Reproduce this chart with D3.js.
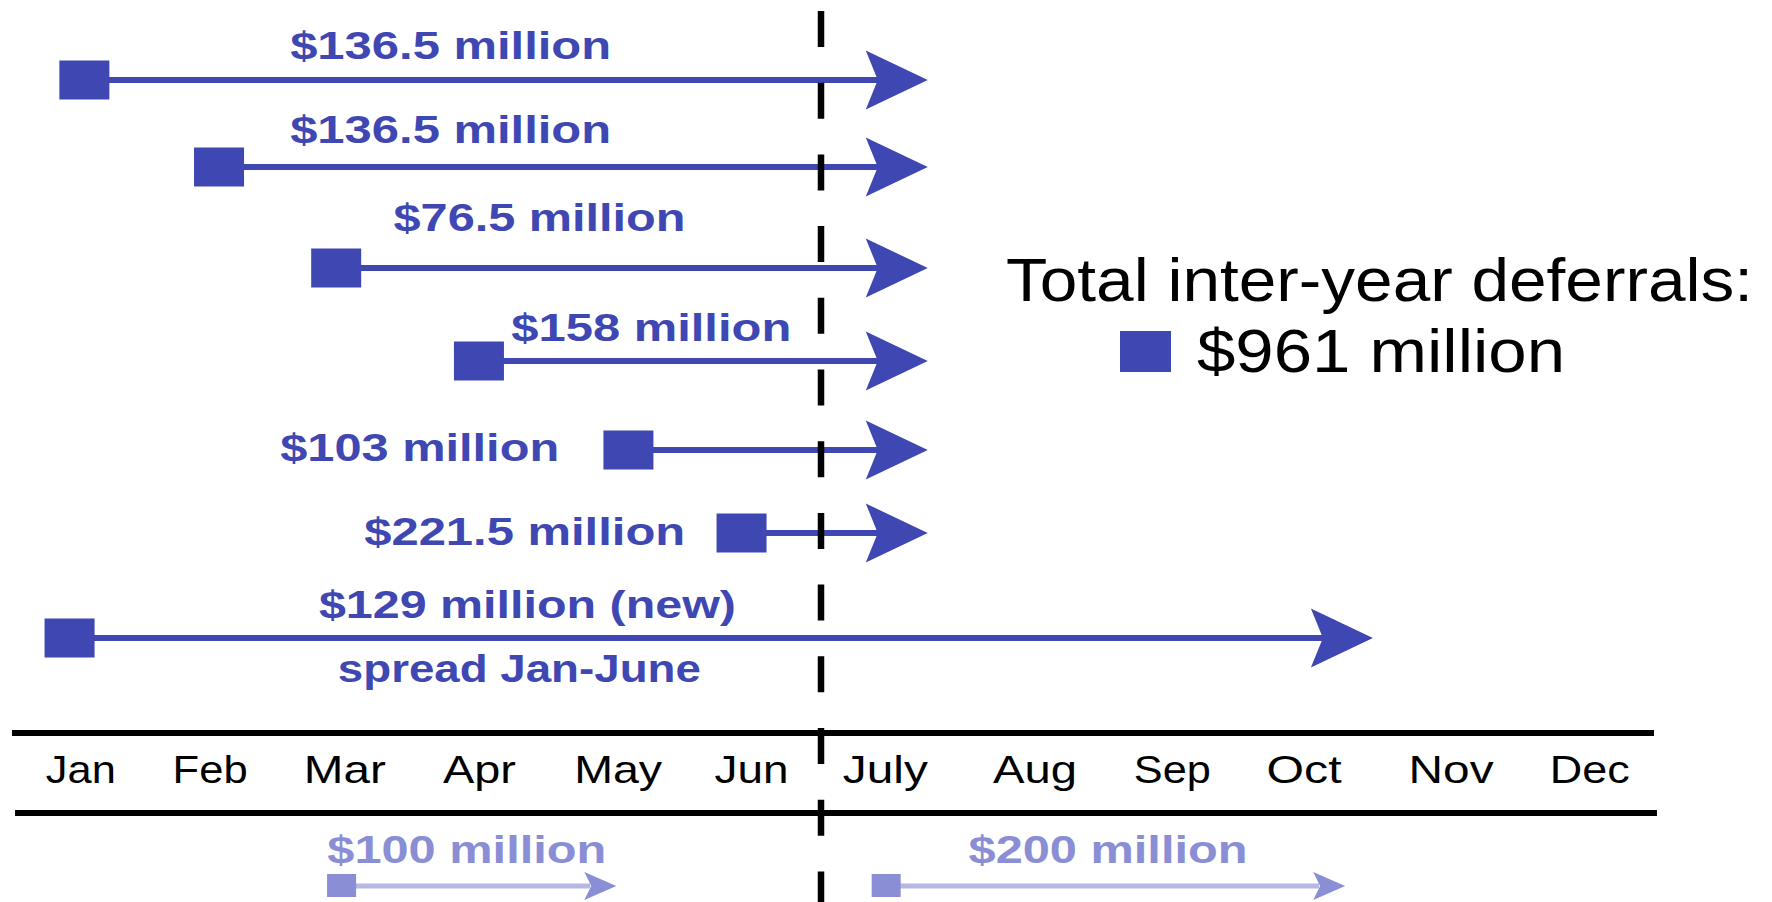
<!DOCTYPE html>
<html>
<head>
<meta charset="utf-8">
<script src="https://cdn.jsdelivr.net/npm/d3@7"></script>
<style>
  html, body { margin: 0; padding: 0; background: #ffffff; }
  svg { display: block; }
</style>
</head>
<body>
<svg id="chart" width="1772" height="902"></svg>
<script>
// ---------------- DATA ----------------
const months = ["Jan","Feb","Mar","Apr","May","Jun","July","Aug","Sep","Oct","Nov","Dec"];
const monthTickAt = [0.50, 1.46, 2.46, 3.46, 4.49, 5.48, 6.46, 7.54, 8.53, 9.48, 10.54, 11.54]; // label centres (month units)

const deferralLabels  = ["$136.5 million","$136.5 million","$76.5 million","$158 million","$103 million","$221.5 million","$129 million (new)"];
const deferralAmounts = [136.5, 136.5, 76.5, 158, 103, 221.5, 129];
const startMonth      = [0.53, 1.53, 2.40, 3.46, 4.57, 5.41, 0.42];   // month position of the square
const endMonth        = [6.77, 6.77, 6.77, 6.77, 6.77, 6.77, 9.98];   // month position of the arrow tip
const labelMonth      = [3.25, 3.25, 3.91, 4.74, 3.02, 3.80, 3.82];   // month position of label centre

const noteText  = "spread Jan-June";
const noteMonth = 3.76;

const laterLabels     = ["$100 million","$200 million"];
const laterStart      = [2.44, 6.47];
const laterEnd        = [4.48, 9.78];
const laterLabelMonth = [3.37, 8.07];

const legendTitle = "Total inter-year deferrals:";
const splitMonth  = 6;   // mid-year boundary (dashed line)

// ---------------- LAYOUT ----------------
const W = 1772, H = 902;
const BLUE = "#3e47b2", LIGHT = "#8a8ed4", LIGHT_LINE = "#b5b8e2";
const FONT = "'Liberation Sans', Arial, sans-serif";

const svg = d3.select("#chart");
svg.append("rect").attr("width", W).attr("height", H).attr("fill", "#fff");

// month scale (piecewise: first half / second half)
const x = d3.scaleLinear().domain([0, 6, 12]).range([13, 821, 1653]);

// row positions
const rowIdx = d3.range(deferralLabels.length);
const y = d3.scaleOrdinal().domain(rowIdx).range([80, 167, 268, 361, 450, 533, 638]);
const labelDy    = [-21, -24, -37, -20, 11, 12, -20];
const labelWidth = [321, 321, 292, 280, 279, 321, 417];

function arrowHead(tipX, cy, len, notch, half) {
  const p = d3.path();
  p.moveTo(tipX, cy);
  p.lineTo(tipX - len, cy - half);
  p.lineTo(tipX - notch, cy);
  p.lineTo(tipX - len, cy + half);
  p.closePath();
  return p.toString();
}

// ---- main deferral arrows ----
const rows = svg.append("g").selectAll("g").data(rowIdx).join("g");

rows.append("line")
  .attr("x1", i => x(startMonth[i]))
  .attr("x2", i => x(endMonth[i]) - 48)
  .attr("y1", i => y(i)).attr("y2", i => y(i))
  .attr("stroke", BLUE).attr("stroke-width", 6);

rows.append("path")
  .attr("d", i => arrowHead(x(endMonth[i]), y(i), 62, 50, 29.5))
  .attr("fill", BLUE);

rows.append("rect")
  .attr("x", i => x(startMonth[i]) - 25)
  .attr("y", i => y(i) - 19.5)
  .attr("width", 50).attr("height", 39)
  .attr("fill", BLUE);

rows.append("text")
  .attr("x", i => x(labelMonth[i]))
  .attr("y", i => y(i) + labelDy[i])
  .attr("text-anchor", "middle")
  .attr("textLength", i => labelWidth[i])
  .attr("lengthAdjust", "spacingAndGlyphs")
  .attr("font-family", FONT).attr("font-weight", "bold").attr("font-size", 38)
  .attr("fill", BLUE)
  .text(i => deferralLabels[i]);

// note under the new-deferral arrow
svg.append("text")
  .attr("x", x(noteMonth))
  .attr("y", y(6) + 44)
  .attr("text-anchor", "middle")
  .attr("textLength", 363).attr("lengthAdjust", "spacingAndGlyphs")
  .attr("font-family", FONT).attr("font-weight", "bold").attr("font-size", 38)
  .attr("fill", BLUE)
  .text(noteText);

// ---- month axis ----
const axisTop = 733, axisBottom = 813, axisBase = 783;
svg.append("line").attr("x1", x.range()[0] - 1).attr("x2", x.range()[2] + 1)
  .attr("y1", axisTop).attr("y2", axisTop).attr("stroke", "#000").attr("stroke-width", 6);
svg.append("line").attr("x1", x.range()[0] + 2).attr("x2", x.range()[2] + 4)
  .attr("y1", axisBottom).attr("y2", axisBottom).attr("stroke", "#000").attr("stroke-width", 6);

const monthWidth = [70, 75, 82, 73, 88, 74, 85, 84, 77, 75, 85, 80];
const axis = d3.axisBottom(x)
  .tickValues(monthTickAt)
  .tickFormat((v, i) => months[i])
  .tickSize(0).tickPadding(0);
const ax = svg.append("g").attr("transform", `translate(0,${axisBase})`).call(axis);
ax.select(".domain").remove();
ax.selectAll(".tick text")
  .attr("y", 0).attr("dy", 0)
  .attr("font-family", FONT).attr("font-size", 39).attr("fill", "#000")
  .attr("textLength", (v, i) => monthWidth[i])
  .attr("lengthAdjust", "spacingAndGlyphs");

// ---- later (second-half) arrows ----
const laterY = 886;
const later = svg.append("g").selectAll("g").data(d3.range(laterLabels.length)).join("g");
later.append("line")
  .attr("x1", i => x(laterStart[i])).attr("x2", i => x(laterEnd[i]) - 26)
  .attr("y1", laterY).attr("y2", laterY)
  .attr("stroke", LIGHT_LINE).attr("stroke-width", 5);
later.append("path")
  .attr("d", i => arrowHead(x(laterEnd[i]), laterY, 32, 25, 14))
  .attr("fill", LIGHT);
later.append("rect")
  .attr("x", i => x(laterStart[i]) - 14.5).attr("y", laterY - 12)
  .attr("width", 29).attr("height", 23)
  .attr("fill", LIGHT);
later.append("text")
  .attr("x", i => x(laterLabelMonth[i])).attr("y", 863)
  .attr("text-anchor", "middle")
  .attr("textLength", 279).attr("lengthAdjust", "spacingAndGlyphs")
  .attr("font-family", FONT).attr("font-weight", "bold").attr("font-size", 38)
  .attr("fill", LIGHT)
  .text(i => laterLabels[i]);

// ---- mid-year dashed line ----
svg.append("line")
  .attr("x1", x(splitMonth)).attr("x2", x(splitMonth))
  .attr("y1", 11).attr("y2", H)
  .attr("stroke", "#000").attr("stroke-width", 6.5)
  .attr("stroke-dasharray", "36 35.7");

// ---- legend ----
const total = d3.sum(deferralAmounts);
svg.append("text")
  .attr("x", 1379.5).attr("y", 301)
  .attr("text-anchor", "middle")
  .attr("textLength", 747).attr("lengthAdjust", "spacingAndGlyphs")
  .attr("font-family", FONT).attr("font-size", 61).attr("fill", "#000")
  .text(legendTitle);
svg.append("rect")
  .attr("x", 1120).attr("y", 331).attr("width", 51).attr("height", 41)
  .attr("fill", BLUE);
svg.append("text")
  .attr("x", 1197).attr("y", 372)
  .attr("textLength", 368).attr("lengthAdjust", "spacingAndGlyphs")
  .attr("font-family", FONT).attr("font-size", 61).attr("fill", "#000")
  .text(`$${d3.format(",")(total)} million`);
</script>
</body>
</html>
